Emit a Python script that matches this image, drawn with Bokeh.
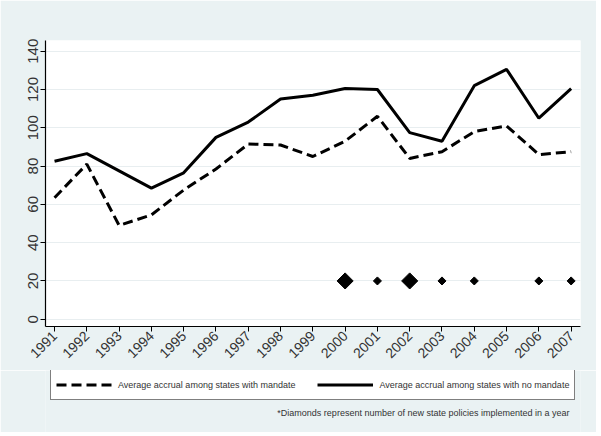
import math
from bokeh.plotting import figure
from bokeh.layouts import column
from bokeh.models import Range1d, Legend, LegendItem, Label, FixedTicker
from bokeh.embed import file_html
from bokeh.resources import INLINE

years = list(range(1991, 2008))
with_mandate = [63.5, 81, 49, 54.5, 67.5, 78.5, 91.5, 91, 85, 93, 106, 84, 87.5, 98, 101, 86, 87.5]
no_mandate = [82.5, 86.5, 77.5, 68.5, 76.5, 95, 103, 115, 117, 120.5, 120, 97.5, 93, 122, 130.5, 105, 120.5]

policy_years = [2000, 2001, 2002, 2003, 2004, 2006, 2007]
policy_counts = [2, 1, 2, 1, 1, 1, 1]
policy_level = 20

y_ticks = [0, 20, 40, 60, 80, 100, 120, 140]

label_mandate = "Average accrual among states with mandate"
label_nomandate = "Average accrual among states with no mandate"
footnote = "*Diamonds represent number of new state policies implemented in a year"

FONT = "Liberation Sans"
BG = "#EAF2F3"
TXT = "#333333"
DASH = "10 5"

p = figure(frame_width=535, frame_height=286,
           x_range=Range1d(1990.72, 2007.29), y_range=Range1d(-3.8, 145.6),
           output_backend="svg", toolbar_location=None,
           min_border_left=45, min_border_right=16, min_border_top=40, min_border_bottom=44)
p.background_fill_color = "white"
p.border_fill_color = BG
p.outline_line_color = None

p.line(years, with_mandate, line_color="black", line_width=3, line_dash=DASH)
p.line(years, no_mandate, line_color="black", line_width=3)

sizes = [5.7 * c for c in policy_counts]
p.scatter(policy_years, [policy_level] * len(policy_years), marker="square",
          angle=math.pi / 4, size=sizes, fill_color="black", line_color="black")

p.xgrid.grid_line_color = None
p.ygrid.grid_line_color = "#E8EEF0"
p.ygrid.grid_line_width = 1
p.ygrid.ticker = FixedTicker(ticks=y_ticks)

p.xaxis.ticker = FixedTicker(ticks=years)
p.yaxis.ticker = FixedTicker(ticks=y_ticks)
for ax in (p.xaxis, p.yaxis):
    ax.axis_line_color = "black"
    ax.axis_line_width = 1.2
    ax.major_tick_out = 5
    ax.major_tick_in = 0
    ax.minor_tick_out = 0
    ax.minor_tick_in = 0
    ax.major_tick_line_color = "black"
    ax.major_label_text_font = FONT
    ax.major_label_text_font_size = "14px"
    ax.major_label_text_color = TXT
p.yaxis.major_label_text_font_size = "15px"
p.xaxis.major_label_orientation = math.pi / 4
p.yaxis.major_label_orientation = "vertical"
p.xaxis.major_label_standoff = 2
p.yaxis.major_label_standoff = 2

# bottom strip: legend and footnote (its frame is aligned with the main frame)
q = figure(width=596, height=62, x_range=Range1d(0, 1), y_range=Range1d(0, 1),
           x_axis_type=None, y_axis_type=None,
           output_backend="svg", toolbar_location=None, min_border=0)
q.background_fill_color = BG
q.border_fill_color = BG
q.outline_line_color = None
q.grid.visible = False

k1 = q.line(x=[-2, -1], y=[-2, -1], line_color="black", line_width=3, line_dash=DASH)
k2 = q.line(x=[-2, -1], y=[-2, -1], line_color="black", line_width=3)

legend = Legend(items=[LegendItem(label=label_mandate, renderers=[k1]),
                       LegendItem(label=label_nomandate, renderers=[k2])],
                orientation="horizontal", location=(5, 32),
                glyph_width=56, glyph_height=19, label_height=19, label_standoff=6, spacing=22,
                padding=5, margin=0,
                label_text_font=FONT, label_text_font_size="9px", label_text_color=TXT,
                border_line_color="black", border_line_width=1.2,
                background_fill_color="white", background_fill_alpha=1)
q.add_layout(legend)

q.add_layout(Label(x=524, y=19.5, x_units="screen", y_units="screen", text=footnote,
                   text_align="right", text_baseline="middle", text_font=FONT,
                   text_font_size="9px", text_color=TXT))

open("out.html", "w").write(file_html(column(p, q, spacing=0), INLINE))
